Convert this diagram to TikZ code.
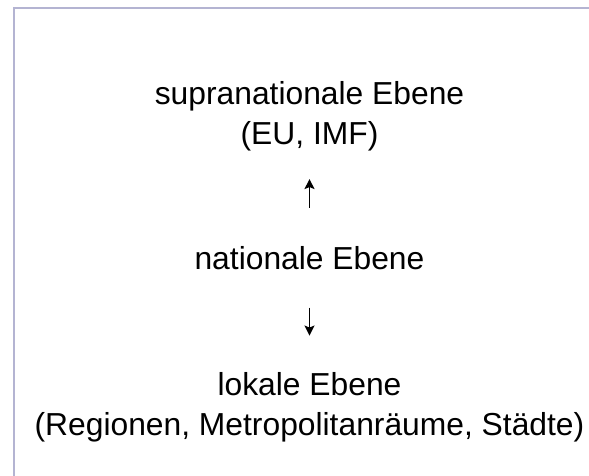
\documentclass[tikz,border=0pt]{standalone}
\usepackage{fontspec}
\setmainfont{Liberation Sans}
\usetikzlibrary{arrows.meta}
\tikzset{
  levelnode/.style = {inner sep = 0pt, align = center, anchor = base, font = \fontsize{31.8}{40}\selectfont},
  levelarrow/.style = {line width = 1.6pt, -{Stealth[length = 10pt, width = 10pt, inset = 2pt]}},
}
\begin{document}
\begin{tikzpicture}[x = 1pt, y = 1pt]
\useasboundingbox (0,0) rectangle (589,476);
\definecolor{framecolor}{RGB}{180,180,210}
\draw [draw = framecolor, line width = 2pt] (13.5,0) -- (13.5,467.5) -- (589,467.5);
\node[levelnode] (supra) at (309.5,331) {supranationale Ebene\\(EU, IMF)};
\node[levelnode] (national) at (309.5,206) {nationale Ebene};
\node[levelnode] (local) at (309.5,40) {lokale Ebene\\(Regionen, Metropolitanräume, Städte)};
\draw [levelarrow, shorten < = 39.2pt, shorten > = 27.3pt] (national.north) -- (supra.south);
\draw [levelarrow, shorten < = 37pt, shorten > = 37.2pt] (national.south) -- (local.north);
\end{tikzpicture}
\end{document}
